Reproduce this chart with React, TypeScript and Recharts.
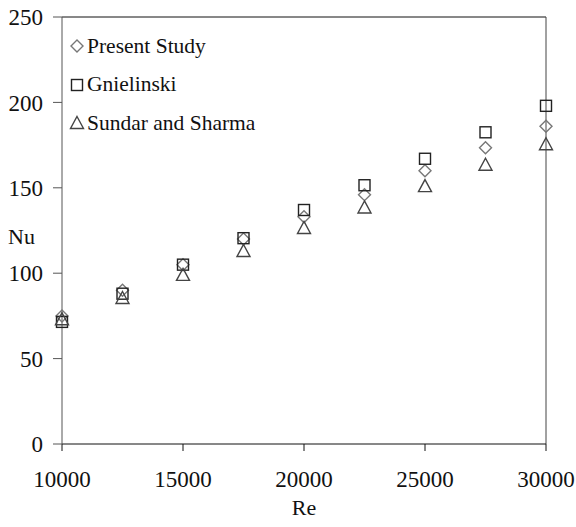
import { ScatterChart, Scatter, XAxis, YAxis, ReferenceLine, Label } from 'recharts';

const reynolds = [10000, 12500, 15000, 17500, 20000, 22500, 25000, 27500, 30000];
const presentStudy = [75, 90, 105, 120, 133, 146, 160, 173.5, 186];
const gnielinski = [71.5, 88, 105, 120.5, 137, 151.5, 167, 182.5, 198];
const sundarSharma = [73, 85.5, 99, 113, 126.5, 138.5, 151, 163.5, 175.5];
const xTicks = [10000, 15000, 20000, 25000, 30000];
const yTicks = [0, 50, 100, 150, 200, 250];

const toPoints = (vals: number[]) => reynolds.map((re, i) => ({ re, nu: vals[i] }));

const FONT = 'Liberation Serif';

const Diamond = ({ cx, cy }: any) => (
    <path d={`M${cx},${cy - 6} L${cx + 6},${cy} L${cx},${cy + 6} L${cx - 6},${cy} Z`} fill="none" stroke="#777" strokeWidth={1.4} />
);
const Square = ({ cx, cy }: any) => (
    <rect x={cx - 5.5} y={cy - 5.5} width={11} height={11} fill="none" stroke="#222" strokeWidth={1.4} />
);
const Triangle = ({ cx, cy }: any) => (
    <path d={`M${cx},${cy - 6.5} L${cx + 6.5},${cy + 5.5} L${cx - 6.5},${cy + 5.5} Z`} fill="none" stroke="#444" strokeWidth={1.4} />
);

const legendItems = [
    { name: 'Present Study', Shape: Diamond },
    { name: 'Gnielinski', Shape: Square },
    { name: 'Sundar and Sharma', Shape: Triangle }
];

// legend sits inside the plot, top-left, like the Excel original
const LegendBox = () => (
    <div style={{ position: 'absolute', left: 69, top: 27, fontFamily: FONT, fontSize: 21.5, color: '#111', pointerEvents: 'none' }}>
        {legendItems.map(({ name, Shape }) => (
            <div key={name} style={{ display: 'flex', alignItems: 'center', height: 38.5 }}>
                <svg width={16} height={16} style={{ marginRight: 2 }}>
                    <Shape cx={8} cy={8} />
                </svg>
                <span>{name}</span>
            </div>
        ))}
    </div>
);

const tickStyle = { fill: '#111', fontSize: 23, fontFamily: FONT };

export default function App() {
    return (
        <div style={{ position: 'absolute', left: 0, top: 0, width: 576, height: 527, background: '#fff', fontFamily: FONT }}>
            <ScatterChart width={576} height={527} margin={{ top: 17, right: 30, left: 0, bottom: 0 }} style={{ fontFamily: FONT }}>
                <XAxis
                    dataKey="re"
                    type="number"
                    domain={[10000, 30000]}
                    ticks={xTicks}
                    height={83}
                    tickSize={7}
                    tickMargin={20}
                    stroke="#111"
                    tick={tickStyle}
                >
                    <Label value="Re" position="insideBottom" offset={12} style={{ ...tickStyle, fontSize: 22 }} />
                </XAxis>
                <YAxis
                    dataKey="nu"
                    type="number"
                    domain={[0, 250]}
                    ticks={yTicks}
                    width={62}
                    tickSize={9}
                    tickMargin={10}
                    stroke="#555"
                    tick={tickStyle}
                >
                    <Label value="Nu" position="insideLeft" offset={8} dy={6} style={{ ...tickStyle, fontSize: 22, textAnchor: 'start' }} />
                </YAxis>
                <ReferenceLine y={250} stroke="#111" />
                <ReferenceLine x={30000} stroke="#444" />
                <Scatter name="Present Study" data={toPoints(presentStudy)} shape={<Diamond />} isAnimationActive={false} />
                <Scatter name="Gnielinski" data={toPoints(gnielinski)} shape={<Square />} isAnimationActive={false} />
                <Scatter name="Sundar and Sharma" data={toPoints(sundarSharma)} shape={<Triangle />} isAnimationActive={false} />
            </ScatterChart>
            <LegendBox />
        </div>
    );
}
